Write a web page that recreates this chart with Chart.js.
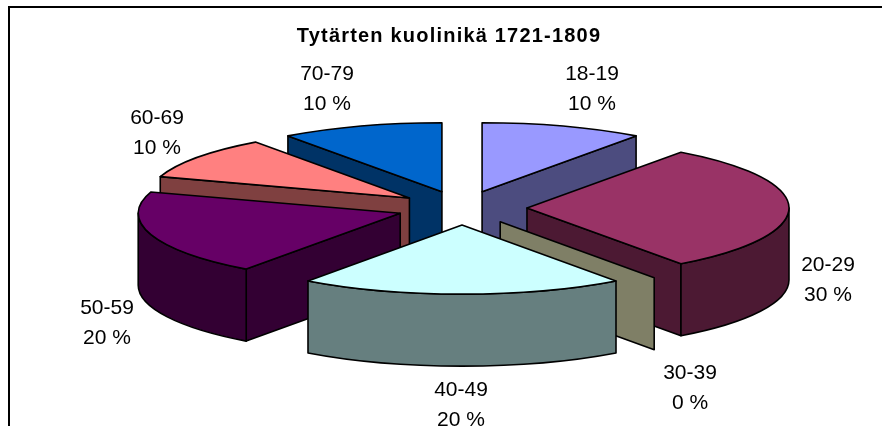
<!DOCTYPE html>
<html>
<head>
<meta charset="utf-8">
<style>html,body{margin:0;padding:0;background:#fff}canvas{display:block}</style>
<script src="https://cdn.jsdelivr.net/npm/chart.js@4"></script>
</head>
<body>
<canvas id="c" width="882" height="426"></canvas>
<script>
const categories = ['18-19','20-29','30-39','40-49','50-59','60-69','70-79'];
const values = [10,30,0,20,20,10,10];
const topColors = ['#9999FF','#993366','#FFFFCC','#CCFFFF','#660066','#FF8080','#0066CC'];
const titleText = 'Tytärten kuolinikä 1721-1809';

// Layout of the tilted pie and of its label anchors (not data)
const PIE = {cx:462, cy:208, rx:262, ry:69, depth:72, explode:0.248};
const labelAnchors = [[592,74],[828,265],[690,373],[461,390],[107,308],[157,118],[327,74]];
const FONT = '"Liberation Sans", Arial, sans-serif';

function halfTone(hex){
  const n = parseInt(hex.slice(1),16);
  return `rgb(${(n>>16&255)>>1},${(n>>8&255)>>1},${(n&255)>>1})`;
}

const pie3d = {
  id:'pie3d',
  beforeDraw(chart){
    const ctx = chart.ctx;
    ctx.save();
    ctx.strokeStyle='#000'; ctx.lineWidth=2;
    ctx.beginPath();
    ctx.moveTo(9,470); ctx.lineTo(9,7); ctx.lineTo(930,7);
    ctx.stroke();
    ctx.restore();
    ctx.letterSpacing='1.2px';
  },
  beforeDatasetDraw(chart,args){
    const ctx = chart.ctx;
    ctx.letterSpacing='0px';
    const arcs = args.meta.data.map((el,i)=>{
      const p = el.getProps(['startAngle','endAngle','outerRadius']);
      const mid = (p.startAngle+p.endAngle)/2;
      return {i, a:p.startAngle, b:p.endAngle, mid, r:p.outerRadius};
    }).sort((u,v)=>Math.sin(u.mid)-Math.sin(v.mid));
    ctx.save();
    ctx.lineJoin='round';
    ctx.lineWidth=1.6;
    ctx.strokeStyle='#000';
    arcs.forEach(s=>{
      const ax = PIE.cx + Math.cos(s.mid)*PIE.explode*PIE.rx;
      const ay = PIE.cy + Math.sin(s.mid)*PIE.explode*PIE.ry;
      const pt = t=>[ax+PIE.rx*Math.cos(t), ay+PIE.ry*Math.sin(t)];
      const d = PIE.depth;
      const paint = col=>{ctx.fillStyle=col;ctx.fill();ctx.stroke();};
      const side = halfTone(topColors[s.i]);
      const radial = t=>{
        const [x,y]=pt(t);
        ctx.beginPath();
        ctx.moveTo(ax,ay);ctx.lineTo(x,y);ctx.lineTo(x,y+d);ctx.lineTo(ax,ay+d);ctx.closePath();
        paint(side);
      };
      if(Math.cos(s.a)<0) radial(s.a);
      if(Math.cos(s.b)>0) radial(s.b);
      const lo=Math.max(s.a,0), hi=Math.min(s.b,Math.PI);
      if(hi>lo){
        ctx.beginPath();
        ctx.ellipse(ax,ay,PIE.rx,PIE.ry,0,lo,hi);
        ctx.ellipse(ax,ay+d,PIE.rx,PIE.ry,0,hi,lo,true);
        ctx.closePath();
        paint(side);
      }
      if(s.b>s.a){
        ctx.beginPath();
        ctx.moveTo(ax,ay);
        ctx.ellipse(ax,ay,PIE.rx,PIE.ry,0,s.a,s.b);
        ctx.closePath();
        paint(topColors[s.i]);
      }
    });
    ctx.restore();
    return false;
  },
  afterDatasetsDraw(chart){
    const ctx = chart.ctx;
    ctx.save();
    ctx.fillStyle='#000';
    ctx.font=`21px ${FONT}`;
    ctx.textAlign='center';
    ctx.textBaseline='middle';
    categories.forEach((c,i)=>{
      const [x,y]=labelAnchors[i];
      ctx.fillText(c,x,y);
      ctx.fillText(values[i]+' %',x,y+30);
    });
    ctx.restore();
  }
};

new Chart(document.getElementById('c'),{
  type:'pie',
  data:{labels:categories,datasets:[{data:values,backgroundColor:topColors,borderColor:'#000',borderWidth:1}]},
  options:{
    responsive:false,
    animation:false,
    layout:{padding:{left:16}},
    plugins:{
      legend:{display:false},
      tooltip:{enabled:false},
      title:{display:true,text:titleText,color:'#000',align:'center',
             font:{family:FONT,size:20,weight:'bold'},padding:{top:24,bottom:10}}
    }
  },
  plugins:[pie3d]
});
</script>
</body>
</html>
